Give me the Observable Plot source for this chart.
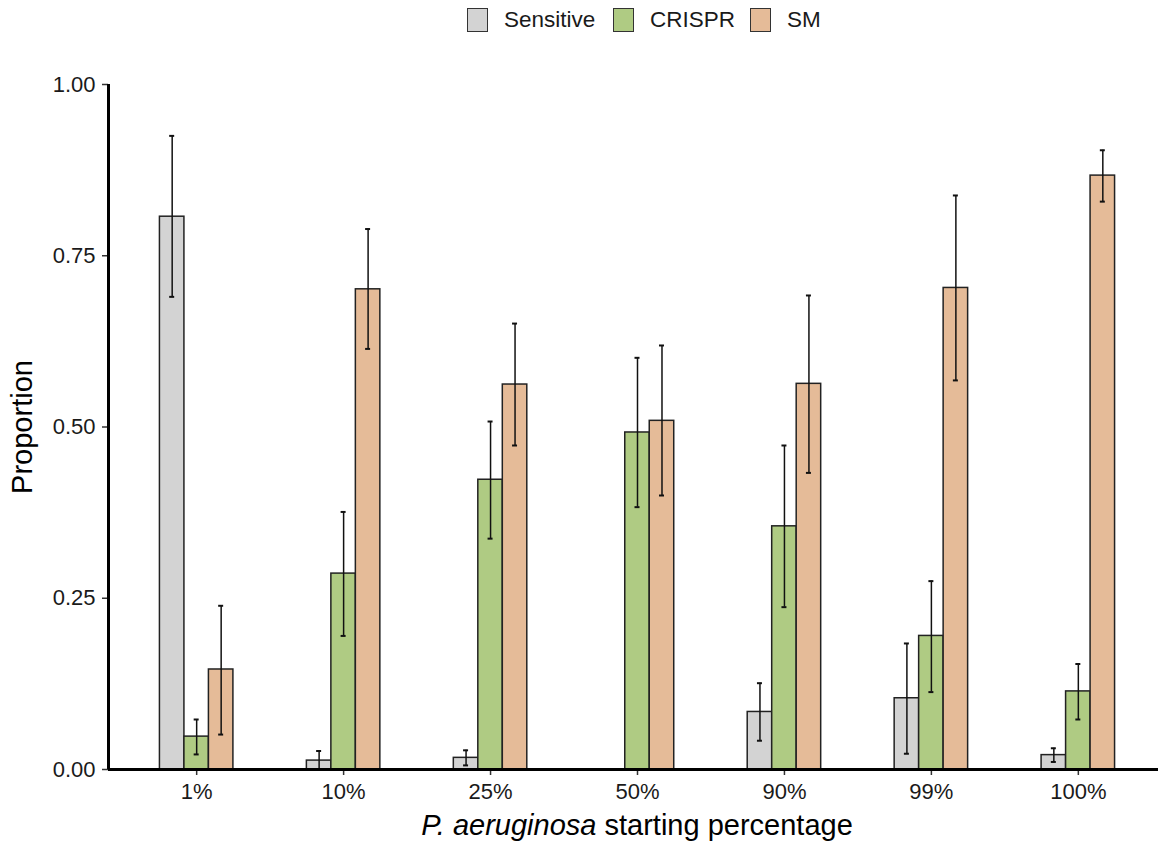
<!DOCTYPE html>
<html>
<head>
<meta charset="utf-8">
<script src="https://cdn.jsdelivr.net/npm/d3@7"></script>
<script src="https://cdn.jsdelivr.net/npm/@observablehq/plot@0.6"></script>
<style>
  html, body { margin: 0; padding: 0; background: #fff; }
  body { width: 1158px; height: 843px; overflow: hidden; font-family: "Liberation Sans", Arial, sans-serif; position: relative; }
  #legend { position: relative; height: 40px; }
  .item { position: absolute; top: 0; height: 40px; display: flex; align-items: center; font-size: 22.5px; color: #1a1a1a; }
  .sw { width: 19px; height: 22px; border: 1.5px solid #333; margin-right: 16px; box-sizing: content-box; }
  #xtitle { position: absolute; left: 108px; width: 1058px; top: 808px; height: 35px; line-height: 35px; text-align: center; font-size: 29px; color: #000; }
  #chart svg { display: block; }
</style>
</head>
<body>
<div id="legend"></div>
<div id="chart"></div>
<div id="xtitle"><i>P. aeruginosa</i> starting percentage</div>
<script>
// ---- data ----
const categories = ["1%", "10%", "25%", "50%", "90%", "99%", "100%"];
const series = ["Sensitive", "CRISPR", "SM"];
const colors = ["#d3d3d3", "#afcb83", "#e5bb98"];

const sensitive   = [0.807, 0.013, 0.017, 0.000, 0.084, 0.104, 0.021];
const sensitiveLo = [0.690, 0.000, 0.006, null,  0.042, 0.023, 0.011];
const sensitiveHi = [0.925, 0.027, 0.028, null,  0.126, 0.184, 0.031];

const crispr   = [0.048, 0.286, 0.423, 0.492, 0.355, 0.195, 0.114];
const crisprLo = [0.022, 0.195, 0.337, 0.383, 0.237, 0.113, 0.073];
const crisprHi = [0.073, 0.376, 0.508, 0.601, 0.473, 0.275, 0.154];

const sm   = [0.146, 0.701, 0.562, 0.509, 0.563, 0.703, 0.867];
const smLo = [0.051, 0.614, 0.473, 0.400, 0.433, 0.568, 0.829];
const smHi = [0.239, 0.789, 0.651, 0.619, 0.692, 0.838, 0.904];

const yTicks = [0, 0.25, 0.5, 0.75, 1];

// ---- build table (dodged positions in data units, like position_dodge) ----
const values = [sensitive, crispr, sm];
const lows = [sensitiveLo, crisprLo, smLo];
const highs = [sensitiveHi, crisprHi, smHi];
const groupWidth = 0.5, barW = groupWidth / series.length, capHalf = 0.017;
const table = [];
categories.forEach((c, i) => {
  series.forEach((s, j) => {
    const x1 = i - groupWidth / 2 + j * barW;
    table.push({
      cat: c, series: s, value: values[j][i], lo: lows[j][i], hi: highs[j][i],
      x1, x2: x1 + barW, xc: x1 + barW / 2
    });
  });
});
const errs = table.filter(d => d.lo != null && d.hi != null);
const xDomain = [-0.6, categories.length - 1 + 0.6];

// ---- legend ----
const legendPos = [467, 613, 750];
const legend = document.getElementById("legend");
series.forEach((s, j) => {
  const it = document.createElement("div");
  it.className = "item";
  it.style.left = legendPos[j] + "px";
  it.innerHTML = `<span class="sw" style="background:${colors[j]}"></span><span>${s}</span>`;
  legend.appendChild(it);
});

// ---- chart ----
const chart = Plot.plot({
  width: 1158,
  height: 768,
  marginTop: 44,
  marginBottom: 39,
  marginLeft: 108,
  marginRight: -8,
  style: { fontFamily: "'Liberation Sans', Arial, sans-serif", background: "transparent", color: "#1a1a1a" },
  x: { domain: xDomain, axis: null },
  y: { domain: [0, 1], axis: null },
  color: { domain: series, range: colors },
  marks: [
    Plot.rect(table, { x1: "x1", x2: "x2", y1: 0, y2: "value", fill: "series", stroke: "#222", strokeWidth: 1.5 }),
    Plot.ruleX(errs, { x: "xc", y1: "lo", y2: "hi", stroke: "#111", strokeWidth: 1.5 }),
    Plot.ruleY(errs, { x1: d => d.xc - capHalf, x2: d => d.xc + capHalf, y: "lo", stroke: "#111", strokeWidth: 2 }),
    Plot.ruleY(errs, { x1: d => d.xc - capHalf, x2: d => d.xc + capHalf, y: "hi", stroke: "#111", strokeWidth: 2 }),
    Plot.axisX({ ticks: d3.range(categories.length), tickFormat: i => categories[i], tickSize: 6, tickPadding: 8, fontSize: 22, stroke: "#333", strokeWidth: 1.5, label: null, fill: "#1a1a1a" }),
    Plot.axisY({ ticks: yTicks, tickFormat: d3.format(".2f"), tickSize: 6, tickPadding: 7, fontSize: 22, stroke: "#333", strokeWidth: 1.5, label: null, fill: "#1a1a1a" }),
    Plot.ruleY([0], { stroke: "#000", strokeWidth: 3 }),
    Plot.ruleX([xDomain[0]], { y1: 0, y2: 1, stroke: "#000", strokeWidth: 3 }),
    Plot.text(["Proportion"], { frameAnchor: "left", textAnchor: "middle", rotate: -90, dx: -86, fontSize: 29, fill: "#000" })
  ]
});
document.getElementById("chart").appendChild(chart);
</script>
</body>
</html>
